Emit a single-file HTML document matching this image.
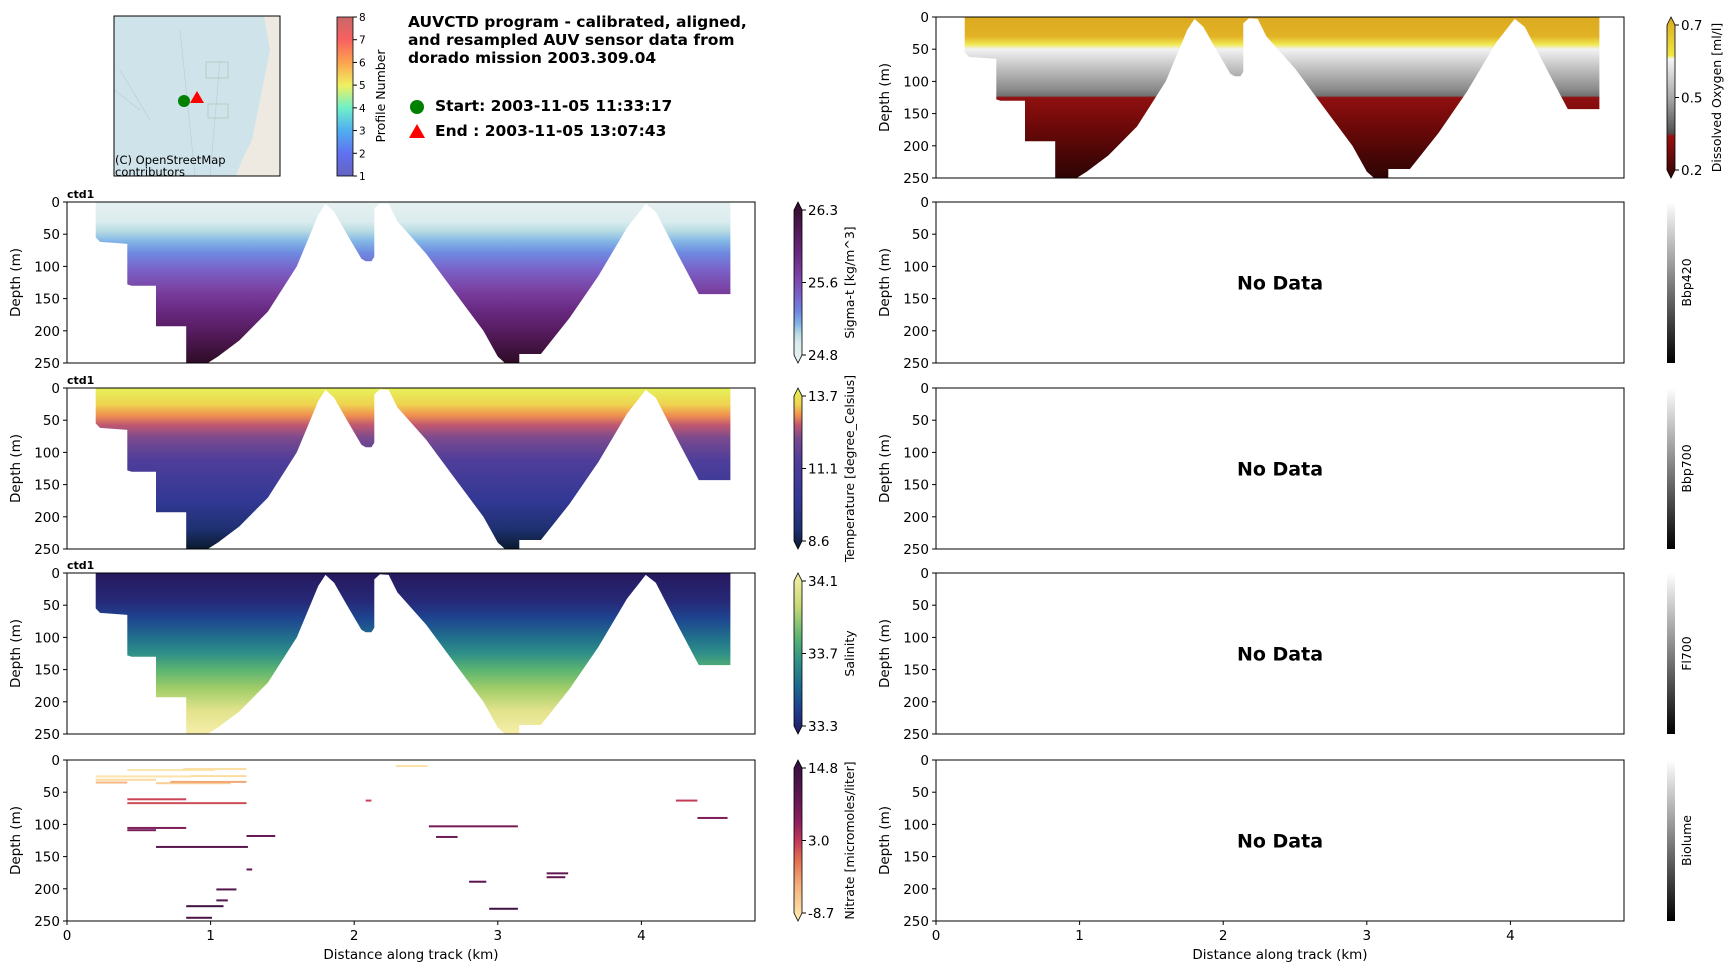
<!DOCTYPE html>
<html><head><meta charset="utf-8">
<style>
html,body{margin:0;padding:0;background:#fff;}
svg{display:block;font-family:"DejaVu Sans","Liberation Sans",sans-serif;}
</style></head>
<body>
<svg id="fig" width="1732" height="968" viewBox="0 0 1732 968" xmlns="http://www.w3.org/2000/svg">
<defs id="defs"></defs>
<g>
  <rect x="114" y="16" width="166" height="160" fill="#cfe3ea"/>
  <path d="M264,16 L280,16 L280,176 L236,176 L242,160 L252,140 L258,110 L264,80 L270,50 Z" fill="#eeeae2"/>
  <path d="M120,70 L150,120 M180,30 L195,176 M220,60 L210,176 M114,90 L140,110" stroke="#c0d0dc" stroke-width="0.8" fill="none"/>
  <rect x="206" y="62" width="22" height="16" fill="none" stroke="#b0cabe" stroke-width="0.8"/>
  <rect x="208" y="104" width="20" height="14" fill="none" stroke="#b0cabe" stroke-width="0.8"/>
  <rect x="114" y="16" width="166" height="160" fill="none" stroke="#000" stroke-width="1"/>
  <circle cx="184" cy="101" r="6" fill="#008000"/>
  <polygon points="197,91 204,103 190,103" fill="#ff0000"/>
  <text x="115" y="164" font-size="11.5" fill="#000">(C) OpenStreetMap</text>
  <text x="115" y="176" font-size="11.5" fill="#000">contributors</text>
</g>
<g font-weight="bold" font-size="15.5" fill="#000">
  <text x="408" y="27">AUVCTD program - calibrated, aligned,</text>
  <text x="408" y="45">and resampled AUV sensor data from</text>
  <text x="408" y="63">dorado mission 2003.309.04</text>
  <circle cx="417" cy="107" r="7" fill="#008000"/>
  <text x="435" y="111">Start: 2003-11-05 11:33:17</text>
  <polygon points="417,124 425,138 409,138" fill="#ff0000"/>
  <text x="435" y="136">End  : 2003-11-05 13:07:43</text>
</g>
<g id="plots"></g>
</svg>
<script>
// ---- data ----
const bottomKm    = [0.2,0.2,0.23,0.42,0.42,0.45,0.62,0.62,0.83,0.83,0.98,1.05,1.2,1.4,1.6,1.75,1.8,1.86,1.95,2.05,2.08,2.12,2.14,2.14,2.18,2.24,2.3,2.5,2.7,2.9,3.0,3.05,3.15,3.15,3.3,3.5,3.7,3.9,4.03,4.1,4.25,4.4,4.62,4.62];
const bottomDepth = [0,55,62,65,128,130,130,193,193,250,250,240,215,170,100,20,3,15,50,88,92,92,85,10,2,3,30,80,140,200,240,250,250,236,236,180,115,40,3,15,80,143,143,0];
const xTicks = [0,1,2,3,4];
const depthTicks = [0,50,100,150,200,250];
const nitX0 = [0.42,0.81,0.2,0.86,0.2,0.2,0.62,0.72,2.29,0.42,0.42,2.08,4.24,4.39,0.42,0.42,2.52,1.25,2.57,0.62,1.25,3.34,3.34,2.8,1.04,1.04,0.83,2.94,0.83];
const nitX1 = [1.03,1.25,0.86,1.25,0.62,0.42,1.14,1.25,2.51,0.83,1.25,2.12,4.39,4.6,0.83,0.62,3.14,1.45,2.72,1.26,1.29,3.49,3.47,2.92,1.18,1.12,1.09,3.14,1.01];
const nitD  = [15.6,14,25.5,25,30.7,35,36,34,9.4,61,67,63,63,90,105.5,109,103,118,119.5,135,170,176,182,189,201,218,227,231,245];
const nitV  = [-8,-7.5,-7.8,-7.2,-7,-4,-6,-3,-7.5,2.5,2.0,2.5,2.8,7,7,7.5,7.5,9,8.5,10,9,9.5,9.5,10,11,11,13,13,12];
const sigmaTicks = ["26.3","25.6","24.8"];
const tempTicks = ["13.7","11.1","8.6"];
const salTicks = ["34.1","33.7","33.3"];
const nitTicks = ["14.8","3.0","-8.7"];
const oxyTicks = ["0.7","0.5","0.2"];
const profTicks = [8,7,6,5,4,3,2,1];

const NS="http://www.w3.org/2000/svg";
const plots=document.getElementById('plots');
const defs=document.getElementById('defs');
function mk(tag,attrs,parent){const e=document.createElementNS(NS,tag);for(const k in attrs)e.setAttribute(k,attrs[k]);(parent||plots).appendChild(e);return e;}
function grad(id,x1,y1,x2,y2,stops){const g=mk('linearGradient',{id:id,gradientUnits:'userSpaceOnUse',x1:x1,y1:y1,x2:x2,y2:y2},defs);stops.forEach(s=>mk('stop',{offset:s[0],'stop-color':s[1]},g));return g;}

const LX=67, RX=936, PW=688, KM=143.6, PH=161;
const rows=[17,202,388,573,760];
function xs(ox,km){return ox+km*KM;}
function ys(oy,d){return oy+d/250*PH;}

function axes(ox,oy,name,showX){
  const g=mk('g',{});
  
  
  depthTicks.forEach(d=>{
    const y=ys(oy,d);
    mk('line',{x1:ox-4,x2:ox,y1:y,y2:y,stroke:'#000','stroke-width':1},g);
    const t=mk('text',{x:ox-7,y:y+5,'font-size':13.5,'text-anchor':'end'},g);t.textContent=d;
  });
  const yl=mk('text',{x:0,y:0,'font-size':13.5,'text-anchor':'middle',transform:`translate(${ox-47},${oy+PH/2}) rotate(-90)`},g);
  yl.textContent='Depth (m)';
  
  
  if(showX){
    xTicks.forEach(k=>{const x=xs(ox,k);
      mk('line',{x1:x,x2:x,y1:oy+PH,y2:oy+PH+4,stroke:'#000'},g);
      const t=mk('text',{x:x,y:oy+PH+19,'font-size':13.5,'text-anchor':'middle'},g);t.textContent=k;});
    const xl=mk('text',{x:ox+PW/2,y:oy+PH+38,'font-size':13.5,'text-anchor':'middle'},g);
    xl.textContent='Distance along track (km)';
    
    
  }
  return g;
}
function frame(ox,oy){mk('rect',{x:ox,y:oy,width:PW,height:PH,fill:'none',stroke:'#000','stroke-width':1});}
function section(ox,oy,name,gid,stops){
  grad(gid,0,oy,0,oy+PH,stops);
  let pts=bottomKm.map((k,i)=>xs(ox,k).toFixed(1)+','+ys(oy,bottomDepth[i]).toFixed(1)).join(' ');
  const p=mk('polygon',{points:pts,fill:`url(#${gid})`});
  
  
}
function cbar(x,oy,name,gid,stops,ticks,label,arrows,lx){
  const g=mk('g',{});
  
  
  const w=8, a=arrows?8:0;
  grad(gid,0,oy,0,oy+PH,stops);
  if(arrows){
    mk('polygon',{points:`${x},${oy+a} ${x+w/2},${oy} ${x+w},${oy+a} ${x+w},${oy+PH-a} ${x+w/2},${oy+PH} ${x},${oy+PH-a}`,fill:`url(#${gid})`,stroke:'#000','stroke-width':0.8},g);
  } else {
    mk('rect',{x:x,y:oy,width:w,height:PH,fill:`url(#${gid})`},g);
  }
  const n=ticks.length;
  ticks.forEach((t,i)=>{
    const y=oy+a+(PH-2*a)*i/(n-1);
    mk('line',{x1:x+w,x2:x+w+4,y1:y,y2:y,stroke:'#000'},g);
    const tx=mk('text',{x:x+w+6,y:y+5,'font-size':13.5},g);tx.textContent=t;
  });
  const l=mk('text',{x:0,y:0,'font-size':12.5,'text-anchor':'middle',transform:`translate(${x+lx},${oy+PH/2}) rotate(-90)`},g);
  l.textContent=label;
}

const sigmaS=[[0,'#e6f0f0'],[0.12,'#dbecee'],[0.18,'#b8dce4'],[0.24,'#84b8e6'],[0.32,'#6e88e0'],[0.42,'#7a62c8'],[0.55,'#7a40a0'],[0.68,'#672880'],[0.82,'#531a5a'],[1,'#2e0c26']];
const tempS=[[0,'#e6f25a'],[0.1,'#eed450'],[0.17,'#f09050'],[0.23,'#c05870'],[0.31,'#7a4a8e'],[0.45,'#4e3e9a'],[0.7,'#323894'],[0.88,'#1e3070'],[1,'#0a1a2e']];
const salS=[[0,'#27185e'],[0.18,'#262a78'],[0.28,'#1e4490'],[0.4,'#206f8c'],[0.5,'#2f8f88'],[0.6,'#5ab472'],[0.72,'#a2cd68'],[0.85,'#e0e28a'],[1,'#f7eeaa']];
const oxyS=[[0,'#dcaa20'],[0.12,'#e2b226'],[0.17,'#f0e850'],[0.2,'#f2f2f2'],[0.3,'#c8c8c8'],[0.45,'#8a8a8a'],[0.49,'#707070'],[0.5,'#901010'],[0.7,'#6a0808'],[0.85,'#4a0606'],[1,'#2e0404']];
const nitS=[[0,'#2f0f3d'],[0.2,'#5a1650'],[0.38,'#8a1f5e'],[0.5,'#c0385a'],[0.62,'#e2704f'],[0.78,'#f4b07c'],[1,'#fdeeb2']];

function nitColor(v){
  const t=(14.8-v)/(14.8+8.7);
  const s=nitS; let i=0; while(i<s.length-2 && t>s[i+1][0]) i++;
  const f=Math.max(0,Math.min(1,(t-s[i][0])/(s[i+1][0]-s[i][0])));
  const h=c=>[1,3,5].map(j=>parseInt(c.substr(j,2),16));
  const a=h(s[i][1]),b=h(s[i+1][1]);
  return 'rgb('+a.map((x,j)=>Math.round(x+(b[j]-x)*f)).join(',')+')';
}

section(LX,rows[1],'sigma-t-section','gSig',sigmaS);
section(LX,rows[2],'temperature-section','gTmp',tempS);
section(LX,rows[3],'salinity-section','gSal',salS);
section(RX,rows[0],'oxygen-section','gOxy',oxyS);
nitX0.forEach((x0,i)=>{
  const r=mk('rect',{x:xs(LX,x0),y:ys(rows[4],nitD[i])-1,width:(nitX1[i]-x0)*KM,height:2,fill:nitColor(nitV[i])});
  
  
});
[1,2,3,4].forEach(r=>{frame(LX,rows[r]);axes(LX,rows[r],'ctd-axes-'+r,r===4);});
[0,1,2,3,4].forEach(r=>{frame(RX,rows[r]);axes(RX,rows[r],'right-axes-'+r,r===4);});
[1,2,3].forEach(r=>{const t=mk('text',{x:LX,y:rows[r]-4,'font-size':11,'font-weight':'bold'});t.textContent='ctd1';
  });
[1,2,3,4].forEach(r=>{const t=mk('text',{x:RX+PW/2,y:rows[r]+PH/2+7,'font-size':19,'font-weight':'bold','text-anchor':'middle'});t.textContent='No Data';
  });
cbar(794,rows[1],'sigma-t-colorbar','cSig',sigmaS.map(s=>[1-s[0],s[1]]).reverse(),sigmaTicks,'Sigma-t [kg/m^3]',true,60);
cbar(794,rows[2],'temperature-colorbar','cTmp',tempS,tempTicks,'Temperature [degree_Celsius]',true,60);
cbar(794,rows[3],'salinity-colorbar','cSal',[[0,'#f7eeaa'],[0.2,'#c8da78'],[0.4,'#5ab472'],[0.55,'#2f8f88'],[0.7,'#1d6a8e'],[0.85,'#1e3e8e'],[1,'#27185e']],salTicks,'Salinity',true,60);
cbar(794,rows[4],'nitrate-colorbar','cNit',nitS,nitTicks,'Nitrate [micromoles/liter]',true,60);
cbar(1667,rows[0],'oxygen-colorbar','cOxy',[[0,'#d8a820'],[0.24,'#f0e840'],[0.26,'#f4f4f4'],[0.5,'#a8a8a8'],[0.72,'#505050'],[0.74,'#9a1010'],[1,'#300404']],oxyTicks,'Dissolved Oxygen [ml/l]',true,54);
['Bbp420','Bbp700','Fl700','Biolume'].forEach((n,i)=>cbar(1667,rows[i+1],n.toLowerCase()+'-colorbar','cBw'+i,[[0,'#ffffff'],[1,'#000000']],[],n,false,24));
(function(){
  const g=mk('g',{});
  
  
  grad('cProf',0,17,0,176,[[0,'#c86868'],[0.14,'#f86060'],[0.28,'#fca050'],[0.43,'#f0f060'],[0.57,'#70f0c8'],[0.71,'#50b0f0'],[0.86,'#6070f0'],[1,'#6464c0']]);
  mk('rect',{x:337,y:17,width:16,height:159,fill:'url(#cProf)',stroke:'#000','stroke-width':0.8},g);
  profTicks.forEach((p,i)=>{const y=17+159*i/7;
    mk('line',{x1:353,x2:357,y1:y,y2:y,stroke:'#000'},g);
    const t=mk('text',{x:359,y:y+4,'font-size':10.5},g);t.textContent=p;});
  const l=mk('text',{x:0,y:0,'font-size':12.5,'text-anchor':'middle',transform:'translate(385,96) rotate(-90)'},g);l.textContent='Profile Number';
})();
</script>
</body></html>
